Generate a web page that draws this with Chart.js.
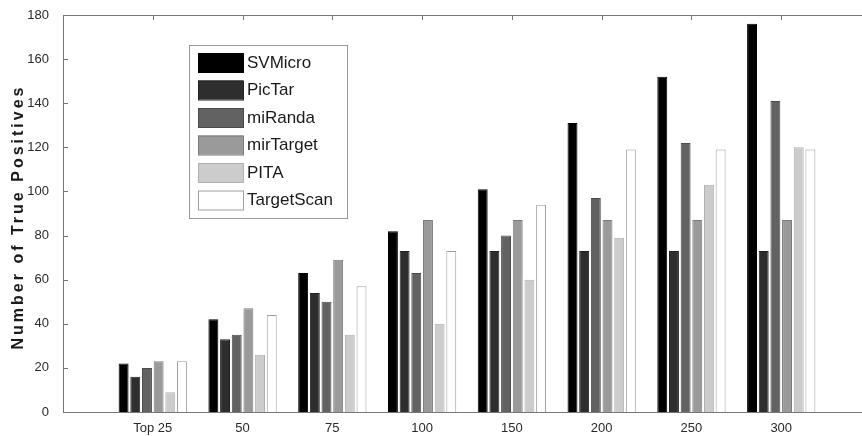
<!DOCTYPE html>
<html>
<head>
<meta charset="utf-8">
<script src="https://cdn.jsdelivr.net/npm/chart.js@4/dist/chart.umd.min.js"></script>
<style>
  html, body { margin: 0; padding: 0; background: #fff; }
  #wrap { width: 862px; height: 436px; overflow: hidden; }
</style>
</head>
<body>
<div id="wrap"><canvas id="chart" width="880" height="436"></canvas></div>
<script>
// data
const categories = ['Top 25', '50', '75', '100', '150', '200', '250', '300'];
const svMicro    = [22, 42, 63, 82, 101, 131, 152, 176];
const picTar     = [16, 33, 54, 73, 73, 73, 73, 73];
const miRanda    = [20, 35, 50, 63, 80, 97, 122, 141];
const mirTarget  = [23, 47, 69, 87, 87, 87, 87, 87];
const pita       = [9, 26, 35, 40, 60, 79, 103, 120];
const targetScan = [23, 44, 57, 73, 94, 119, 119, 119];
const yTicks     = [0, 20, 40, 60, 80, 100, 120, 140, 160, 180];
const yTitle     = 'Number of True Positives';

const FONT = "'Liberation Sans', Arial, sans-serif";

function series(label, values, fill, edge) {
    return {
        label: label,
        data: values.map((v, i) => ({ x: i + 1, y: v })),
        backgroundColor: fill,
        borderColor: edge,
        borderWidth: 1,
        barPercentage: 0.85,
        categoryPercentage: 0.78,
    };
}

// matlab style box with inward ticks, plus the spaced-out y title
const boxPlugin = {
    id: 'box',
    beforeDatasetsDraw(chart) {
        const ctx = chart.ctx;
        const a = chart.chartArea;
        const xs = chart.scales.x, ys = chart.scales.y;
        ctx.save();
        ctx.strokeStyle = '#777';
        ctx.lineWidth = 1;
        ctx.strokeRect(Math.round(a.left) + 0.5, Math.round(a.top) + 0.5,
            Math.round(a.right - a.left), Math.round(a.bottom - a.top));
        ctx.beginPath();
        yTicks.forEach(t => {
            const y = Math.round(ys.getPixelForValue(t)) + 0.5;
            ctx.moveTo(a.left, y); ctx.lineTo(a.left + 5, y);
        });
        categories.forEach((c, i) => {
            const x = Math.round(xs.getPixelForValue(i + 1)) + 0.5;
            ctx.moveTo(x, a.top); ctx.lineTo(x, a.top + 5);
        });
        ctx.stroke();

        ctx.translate(19, 217);
        ctx.rotate(-Math.PI / 2);
        ctx.font = 'bold 16px ' + FONT;
        ctx.letterSpacing = '3px';
        ctx.fillStyle = '#1a1a1a';
        ctx.textAlign = 'center';
        ctx.textBaseline = 'middle';
        ctx.fillText(yTitle, 0, 0);
        ctx.restore();
    }
};

// legend box inside the axes, top left
const legendPlugin = {
    id: 'insideLegend',
    afterDraw(chart) {
        const ctx = chart.ctx;
        const bx = 189, by = 45, bw = 158, bh = 173;
        ctx.save();
        ctx.fillStyle = '#fff';
        ctx.fillRect(bx, by, bw, bh);
        ctx.strokeStyle = '#999';
        ctx.lineWidth = 1;
        ctx.strokeRect(bx + 0.5, by + 0.5, bw, bh);
        ctx.font = '17px ' + FONT;
        ctx.textBaseline = 'middle';
        chart.data.datasets.forEach((ds, i) => {
            const y = 53 + i * 27.5;
            ctx.fillStyle = ds.backgroundColor;
            ctx.fillRect(198, y, 45, 19);
            ctx.strokeStyle = ds.borderColor;
            ctx.strokeRect(198.5, y + 0.5, 45, 19);
            ctx.fillStyle = '#1a1a1a';
            ctx.fillText(ds.label, 247, y + 10);
        });
        ctx.restore();
    }
};

new Chart(document.getElementById('chart'), {
    type: 'bar',
    data: {
        datasets: [
            series('SVMicro', svMicro, '#000000', '#000000'),
            series('PicTar', picTar, '#2e2e2e', '#222222'),
            series('miRanda', miRanda, '#626262', '#4a4a4a'),
            series('mirTarget', mirTarget, '#9a9a9a', '#7a7a7a'),
            series('PITA', pita, '#cccccc', '#b0b0b0'),
            series('TargetScan', targetScan, '#ffffff', '#a0a0a0'),
        ]
    },
    options: {
        responsive: false,
        animation: false,
        layout: { padding: { top: 15, right: 9, left: 0, bottom: 0 } },
        plugins: {
            legend: { display: false },
            tooltip: { enabled: false },
        },
        scales: {
            x: {
                type: 'linear',
                offset: false,
                min: 0,
                max: 9,
                grid: { display: false, offset: false },
                border: { display: false },
                afterFit(scale) { scale.height = 24; },
                afterBuildTicks(scale) {
                    scale.ticks = categories.map((c, i) => ({ value: i + 1 }));
                },
                ticks: {
                    autoSkip: false,
                    maxRotation: 0,
                    padding: 1,
                    color: '#2a2a2a',
                    font: { family: FONT, size: 13 },
                    callback: v => categories[v - 1] || '',
                }
            },
            y: {
                min: 0,
                max: 180,
                grid: { display: false },
                border: { display: false },
                afterFit(scale) { scale.width = 63; },
                afterBuildTicks(scale) {
                    scale.ticks = yTicks.map(v => ({ value: v }));
                },
                ticks: {
                    padding: 6,
                    color: '#2a2a2a',
                    font: { family: FONT, size: 13 },
                }
            }
        }
    },
    plugins: [boxPlugin, legendPlugin]
});
</script>
</body>
</html>
